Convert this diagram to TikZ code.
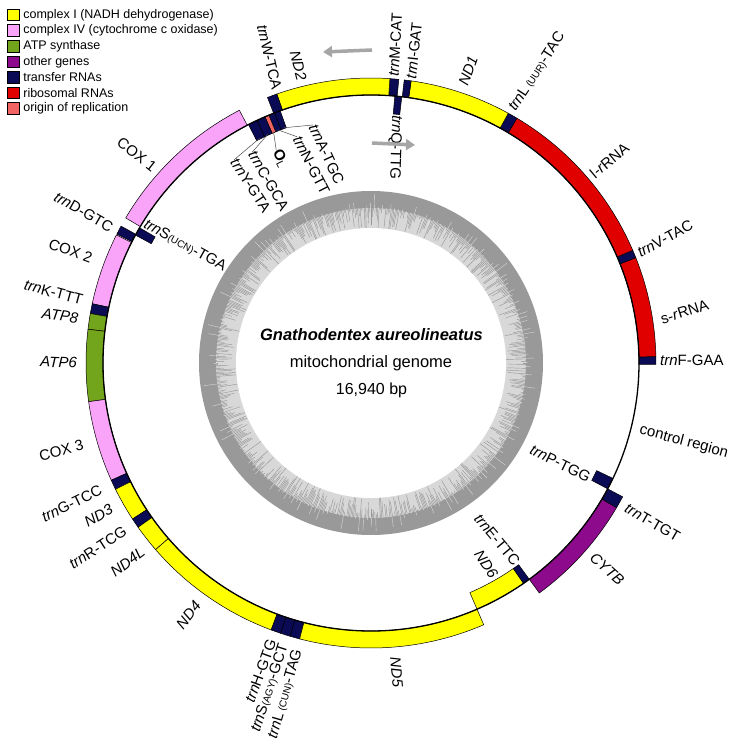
\documentclass[tikz,border=0pt]{standalone}
\usepackage{fontspec}
\setmainfont{Liberation Sans}
\usetikzlibrary{positioning,arrows.meta}

\definecolor{cxone}{HTML}{FFFF00}
\definecolor{cxfour}{HTML}{F9A3F9}
\definecolor{atp}{HTML}{72A51B}
\definecolor{other}{HTML}{8E0A8C}
\definecolor{trna}{HTML}{0A0A55}
\definecolor{rrna}{HTML}{E00000}
\definecolor{orig}{HTML}{F26464}
\definecolor{gcdark}{HTML}{999999}
\definecolor{gclight}{HTML}{D8D8D8}

\newcommand{\trnit}{\textit{trn}}
\newcommand{\anticod}[1]{{\fontsize{10}{10}\selectfont(#1)}}

\tikzset{
  glab/.style={font=\fontsize{15}{18}\selectfont, inner sep=0pt},
  legbox/.style={draw=black, line width=0.8pt, minimum width=12.5pt, minimum height=11.5pt, inner sep=0pt},
  legtext/.style={font=\fontsize{12.5}{15}\selectfont, inner sep=0pt, anchor=west},
  leader/.style={draw=black!70, line width=0.5pt},
  strandarrow/.style={draw=black!35, line width=3.5pt, -{Triangle[width=11pt, length=9pt]}},
  band/.style={draw=black, line width=0.5pt}
}

\begin{document}
\begin{tikzpicture}[x=1pt, y=1pt]
        \fill[white] (-371,-379) rectangle (362,363);
        \useasboundingbox (-371,-379) rectangle (362,363);

        \fill[gcdark] (0,0) circle (172);
        \fill[gclight] (0,0) circle (155);
        \pgfmathsetseed{42}
        \foreach \i in {0,0.5,...,359.5}{
            \pgfmathsetmacro{\dep}{155-21*rnd^1.3}
            \draw[gcdark, line width=0.45pt] (\i:155.5) -- (\i:\dep);
        }
        \foreach \i in {0.25,1.75,...,359}{
            \pgfmathsetmacro{\ht}{155+14*rnd^3}
            \draw[gclight, line width=0.4pt] (\i:154) -- (\i:\ht);
        }
        \fill[white] (0,0) circle (135);

        \foreach \a/\b/\col in {1.3/-0.3/trna, 21.7/1.3/rrna, 23.3/21.7/trna, 59.2/23.3/rrna,
                61.2/59.2/trna, 81.9/61.2/cxone, 83.3/81.9/trna, 86.2/84.4/trna,
                109.3/86.2/cxone, 111.3/109.3/trna, 149.4/117.5/cxfour, 153.1/151.3/trna,
                168/153.3/cxfour, 170/168/trna, 173.2/170/atp, 187.8/173.2/atp,
                204.3/187.8/cxfour, 206.3/204.3/trna, 213.2/206.3/cxone, 215.2/213.2/trna,
                220.9/215.2/cxone, 249.5/220.9/cxone, 251.5/249.5/trna, 253.5/251.5/trna,
                255.5/253.5/trna, 293.3/255.5/cxone, 306.2/329.5/other, 329.5/332/trna}
            \filldraw[band, fill=\col] (\a:268) arc[start angle=\a, end angle=\b, radius=268]
                -- (\b:285) arc[start angle=\b, end angle=\a, radius=285] -- cycle;

        \foreach \a/\b/\col in {83.4/84.9/trna, 109.8/111.1/trna, 111.1/112.4/trna,
                112.4/113.3/orig, 113.3/115.2/trna, 115.2/117.2/trna, 149.7/151.5/trna,
                -66.7/-55.3/cxone, -55.3/-53.8/trna, -28/-25.5/trna}
            \filldraw[band, fill=\col] (\a:268) arc[start angle=\a, end angle=\b, radius=268]
                -- (\b:250) arc[start angle=\b, end angle=\a, radius=250] -- cycle;

        \draw[line width=1.3pt] (0,0) circle (268);

        \node[glab, anchor=west, rotate=0] (lF) at (0.6:289) {\trnit F-GAA};
        \node[glab, anchor=west, rotate=18] (lsr) at (8.5:293) {s-\textit{r}RNA};
        \node[glab, anchor=west, rotate=28] (lV) at (22.4:289) {\trnit V-TAC};
        \node[glab, anchor=west, rotate=40] (llr) at (40.4:290) {l-\textit{r}RNA};
        \node[glab, anchor=west, rotate=57] (lLa) at (60.9:290) {\trnit L\,\anticod{UUR}-TAC};
        \node[glab, anchor=west, rotate=70] (lNDa) at (71.7:293) {\textit{ND1}};
        \node[glab, anchor=west, rotate=84] (lI) at (82:287) {\trnit I-GAT};
        \node[glab, anchor=west, rotate=87] (lM) at (85.5:287) {\trnit M-CAT};
        \node[glab, anchor=west, rotate=-15] (lcr) at (-14:277) {control region};
        \node[glab, anchor=west, rotate=-30] (lT) at (-29.5:293) {\trnit T-TGT};
        \node[glab, anchor=west, rotate=-42] (lcyt) at (-41:293) {\textit{CYTB}};
        \node[glab, anchor=west, rotate=-85] (lNDe) at (-85.3:295) {\textit{ND5}};

        \node[glab, anchor=east, rotate=-77] (lW) at (109:289) {\trnit W-TCA};
        \node[glab, anchor=east, rotate=-76] (lNDb) at (103.7:291) {\textit{ND2}};
        \node[glab, anchor=east, rotate=-38] (lcoa) at (138:291) {COX 1};
        \node[glab, anchor=east, rotate=-30] (lD) at (152.5:292) {\trnit D-GTC};
        \node[glab, anchor=east, rotate=-20] (lcob) at (159.5:298) {COX 2};
        \node[glab, anchor=east, rotate=-15] (lK) at (167.7:295) {\trnit K-TTT};
        \node[glab, anchor=east, rotate=-8] (latpe) at (171.3:296) {\textit{ATP8}};
        \node[glab, anchor=east, rotate=-2] (latps) at (180:294) {\textit{ATP6}};
        \node[glab, anchor=east, rotate=15] (lcoc) at (195.8:299) {COX 3};
        \node[glab, anchor=east, rotate=26] (lG) at (205.1:298) {\trnit G-TCC};
        \node[glab, anchor=east, rotate=30] (lNDc) at (209.2:297) {\textit{ND3}};
        \node[glab, anchor=east, rotate=33] (lR) at (214.2:297) {\trnit R-TCG};
        \node[glab, anchor=east, rotate=37] (lNDl) at (219.4:295) {\textit{ND4L}};
        \node[glab, anchor=east, rotate=52] (lNDd) at (234.2:296) {\textit{ND4}};
        \node[glab, anchor=east, rotate=70] (lH) at (250.3:294) {\trnit H-GTG};
        \node[glab, anchor=east, rotate=72] (lSb) at (252.8:294) {\trnit S\anticod{AGY}-GCT};
        \node[glab, anchor=east, rotate=74] (lLb) at (255.7:296) {\trnit L\,\anticod{CUN}-TAG};

        \node[glab, anchor=west, rotate=-92] (lQ) at (84.2:249) {\trnit Q-TTG};
        \node[glab, anchor=west, rotate=-29] (lSa) at (148.3:266) {\trnit S\anticod{UCN}-TGA};
        \node[glab, anchor=east, rotate=-26] (lP) at (-27.7:247) {\trnit P-TGG};
        \node[glab, anchor=east, rotate=-50] (lE) at (-53.9:248) {\trnit E-TTC};
        \node[glab, anchor=east, rotate=-57] (lNDf) at (-60:247) {\textit{ND6}};
        \node[glab, anchor=west, rotate=-65] (lA) at (103.7:245) {\trnit A-TGC};
        \node[glab, anchor=west, rotate=-63] (lN) at (108.1:238) {\trnit N-GTT};
        \node[glab, anchor=west, rotate=-63] (lOL) at (114:233) {\textbf{O}\textsubscript{L}};
        \node[glab, anchor=west, rotate=-60] (lC) at (119.4:242) {\trnit C-GCA};
        \node[glab, anchor=west, rotate=-57] (lY) at (124:245) {\trnit Y-GTA};

        \draw[leader] (110.45:251) -- (lA.west);
        \draw[leader] (111.75:251) -- (lN.west);
        \draw[leader] (112.85:251) -- (lOL.west);
        \draw[leader] (114.25:251) -- (lC.west);
        \draw[leader] (116.2:251) -- (lY.west);

        \draw[strandarrow] (1,313) -- (-48,311);
        \draw[strandarrow] (1,220) -- (44,218);

        \node[font=\fontsize{16.5}{20}\selectfont\bfseries\itshape] (title) at (0.5,28) {Gnathodentex aureolineatus};
        \node[font=\fontsize{16.5}{20}\selectfont] (kind) at (0,0) {mitochondrial genome};
        \node[font=\fontsize{16}{20}\selectfont] (size) at (0.5,-27) {16,940 bp};

        \foreach \c/\t [count=\k] in {cxone/complex I (NADH dehydrogenase), cxfour/complex IV (cytochrome c oxidase),
                atp/ATP synthase, other/other genes, trna/transfer RNAs, rrna/ribosomal RNAs, orig/origin of replication}{
            \node[legbox, fill=\c] (box\k) at (-357.5,{348-15.6*(\k-1)}) {};
            \node[legtext, right=3pt of box\k] (leg\k) {\t};
        }
    \end{tikzpicture}
\end{document}
